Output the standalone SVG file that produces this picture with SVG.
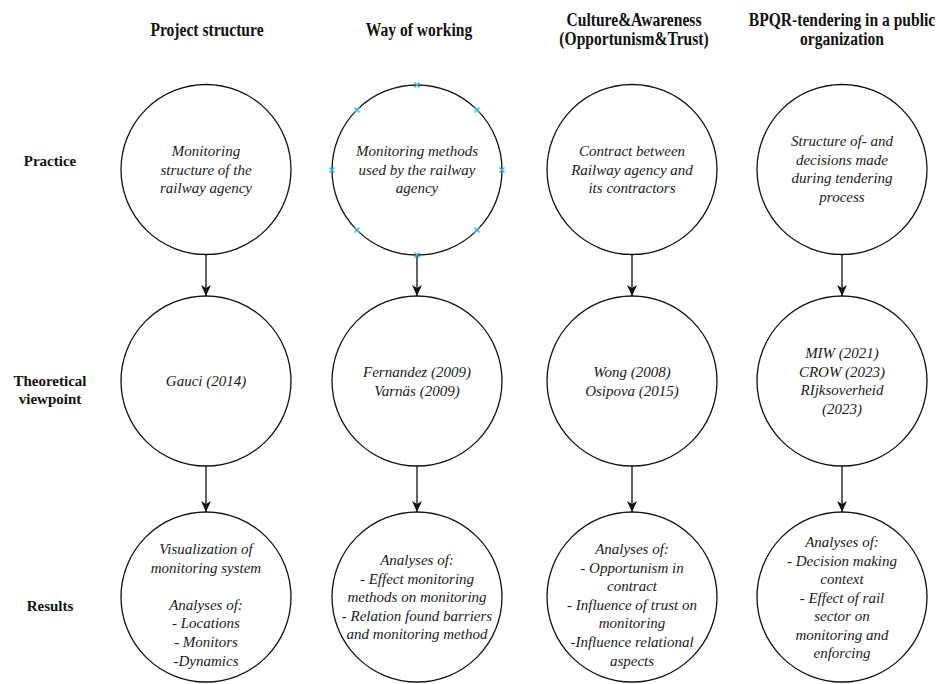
<svg xmlns="http://www.w3.org/2000/svg" width="936" height="684" viewBox="0 0 936 684">
  <style>
    .bg { fill: #ffffff; }
    .node circle { fill: #ffffff; stroke: #111111; stroke-width: 1.3; }
    .node text { font-family: "Liberation Serif", "Times New Roman", serif; font-style: italic; font-size: 15px; fill: #1a1a1a; text-anchor: middle; }
    .head { font-family: "Liberation Serif", "Times New Roman", serif; font-weight: bold; font-size: 19px; fill: #111111; text-anchor: middle; }
    .row { font-family: "Liberation Serif", "Times New Roman", serif; font-weight: bold; font-size: 15px; fill: #111111; text-anchor: middle; }
    .edge { stroke: #111111; stroke-width: 1.3; fill: none; marker-end: url(#arrow); }
    .pt { stroke: #29b6f2; stroke-width: 1.4; fill: none; }
  </style>
  <defs>
    <marker id="arrow" markerUnits="userSpaceOnUse" markerWidth="12" markerHeight="11" refX="11" refY="5" orient="auto">
      <path d="M0,0 L11,5 L0,10 L3,5 z" fill="#111111"/>
    </marker>
    <path id="xmark" d="M-2.5,-2.5 L2.5,2.5 M-2.5,2.5 L2.5,-2.5"/>
  </defs>

  <rect class="bg" x="0" y="0" width="936" height="684"/>

  <!-- column headers -->
  <g id="headers">
    <text class="head" transform="translate(207,36) scale(0.82,1)">Project structure</text>
    <text class="head" transform="translate(419,36) scale(0.82,1)">Way of working</text>
    <text class="head" transform="translate(634,26) scale(0.82,1)">Culture&amp;Awareness</text>
    <text class="head" transform="translate(634,45) scale(0.82,1)">(Opportunism&amp;Trust)</text>
    <text class="head" transform="translate(842,26) scale(0.82,1)">BPQR-tendering in a public</text>
    <text class="head" transform="translate(842,45) scale(0.82,1)">organization</text>
  </g>

  <!-- row labels -->
  <g id="row-labels">
    <text class="row" x="50" y="166">Practice</text>
    <text class="row" x="50" y="386">Theoretical</text>
    <text class="row" x="50" y="404">viewpoint</text>
    <text class="row" x="50" y="611">Results</text>
  </g>

  <!-- connectors -->
  <g id="connectors">
    <line class="edge" x1="206" y1="254.5" x2="206" y2="296"/>
    <line class="edge" x1="417" y1="255" x2="417" y2="296"/>
    <line class="edge" x1="632" y1="254.5" x2="632" y2="296"/>
    <line class="edge" x1="842" y1="254.5" x2="842" y2="296"/>
    <line class="edge" x1="206" y1="466" x2="206" y2="512"/>
    <line class="edge" x1="417" y1="466" x2="417" y2="512"/>
    <line class="edge" x1="632" y1="466" x2="632" y2="512"/>
    <line class="edge" x1="842" y1="466" x2="842" y2="512"/>
  </g>

  <!-- practice row -->
  <g id="practice-structure" class="node">
    <circle cx="206" cy="169.5" r="85"/>
    <text x="206" y="156">Monitoring</text>
    <text x="206" y="174.5">structure of the</text>
    <text x="206" y="193">railway agency</text>
  </g>
  <g id="practice-methods" class="node">
    <circle cx="417" cy="170" r="85"/>
    <text x="417" y="156">Monitoring methods</text>
    <text x="417" y="174.5">used by the railway</text>
    <text x="417" y="193">agency</text>
    <g class="pt">
      <use href="#xmark" x="417" y="85"/>
      <use href="#xmark" x="477" y="110"/>
      <use href="#xmark" x="502" y="170"/>
      <use href="#xmark" x="477" y="230"/>
      <use href="#xmark" x="417" y="255"/>
      <use href="#xmark" x="357" y="230"/>
      <use href="#xmark" x="332" y="170"/>
      <use href="#xmark" x="357" y="110"/>
    </g>
  </g>
  <g id="practice-contract" class="node">
    <circle cx="632" cy="169.5" r="85"/>
    <text x="632" y="156">Contract between</text>
    <text x="632" y="174.5">Railway agency and</text>
    <text x="632" y="193">its contractors</text>
  </g>
  <g id="practice-tendering" class="node">
    <circle cx="842" cy="169.5" r="85"/>
    <text x="842" y="146">Structure of- and</text>
    <text x="842" y="164.5">decisions made</text>
    <text x="842" y="183">during tendering</text>
    <text x="842" y="201.5">process</text>
  </g>

  <!-- theoretical viewpoint row -->
  <g id="theory-structure" class="node">
    <circle cx="206" cy="381" r="85"/>
    <text x="206" y="386">Gauci (2014)</text>
  </g>
  <g id="theory-methods" class="node">
    <circle cx="417" cy="381" r="85"/>
    <text x="417" y="377">Fernandez (2009)</text>
    <text x="417" y="395.5">Varnäs (2009)</text>
  </g>
  <g id="theory-contract" class="node">
    <circle cx="632" cy="381" r="85"/>
    <text x="632" y="376.5">Wong (2008)</text>
    <text x="632" y="395.5">Osipova (2015)</text>
  </g>
  <g id="theory-tendering" class="node">
    <circle cx="842" cy="381" r="85"/>
    <text x="842" y="358">MIW (2021)</text>
    <text x="842" y="376.5">CROW (2023)</text>
    <text x="842" y="395">RIjksoverheid</text>
    <text x="842" y="413.5">(2023)</text>
  </g>

  <!-- results row -->
  <g id="results-structure" class="node">
    <circle cx="206" cy="597" r="85"/>
    <text x="206" y="554">Visualization of</text>
    <text x="206" y="572.6">monitoring system</text>
    <text x="206" y="609.8">Analyses of:</text>
    <text x="206" y="628.4">- Locations</text>
    <text x="206" y="647">- Monitors</text>
    <text x="206" y="665.6">-Dynamics</text>
  </g>
  <g id="results-methods" class="node">
    <circle cx="417" cy="597" r="85"/>
    <text x="417" y="565">Analyses of:</text>
    <text x="417" y="583.6">- Effect monitoring</text>
    <text x="417" y="602.2">methods on monitoring</text>
    <text x="417" y="620.8">- Relation found barriers</text>
    <text x="417" y="639.4">and monitoring method</text>
  </g>
  <g id="results-contract" class="node">
    <circle cx="632" cy="597" r="85"/>
    <text x="632" y="554">Analyses of:</text>
    <text x="632" y="572.6">- Opportunism in</text>
    <text x="632" y="591.2">contract</text>
    <text x="632" y="609.8">- Influence of trust on</text>
    <text x="632" y="628.4">monitoring</text>
    <text x="632" y="647">-Influence relational</text>
    <text x="632" y="665.6">aspects</text>
  </g>
  <g id="results-tendering" class="node">
    <circle cx="842" cy="597" r="85"/>
    <text x="842" y="547">Analyses of:</text>
    <text x="842" y="565.5">- Decision making</text>
    <text x="842" y="584">context</text>
    <text x="842" y="602.5">- Effect of rail</text>
    <text x="842" y="621">sector on</text>
    <text x="842" y="639.5">monitoring and</text>
    <text x="842" y="658">enforcing</text>
  </g>
</svg>
